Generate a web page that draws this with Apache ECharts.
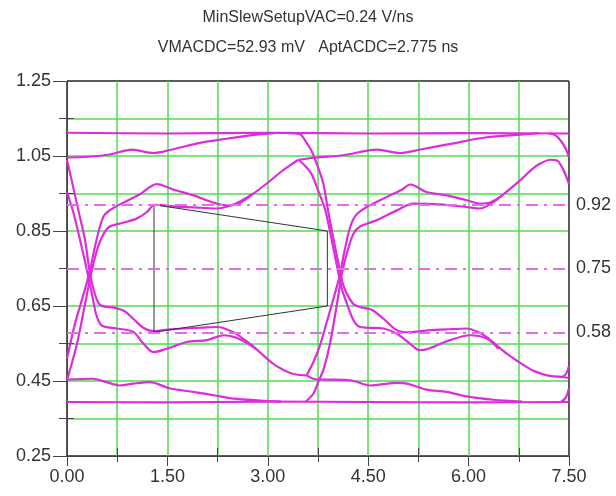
<!DOCTYPE html>
<html>
<head>
<meta charset="utf-8">
<script src="https://cdn.jsdelivr.net/npm/echarts@6/dist/echarts.min.js"></script>
<style>
  html, body { margin: 0; padding: 0; background: #fff; }
  #chart { width: 616px; height: 496px; }
</style>
</head>
<body>
<div id="chart"></div>
<script>
// eye diagram traces, [time ns, volts]
const topFlat = [[0, 1.112], [1.5, 1.11], [3.0, 1.112], [4.5, 1.11], [6.0, 1.111], [7.5, 1.11]];
const settleHighA = [[0, 1.046], [0.3, 1.048], [0.64, 1.054], [0.97, 1.067], [1.29, 1.058], [1.54, 1.066], [1.99, 1.085], [2.39, 1.096], [2.83, 1.107], [3.1, 1.111]];
const settleHighB = [[3.46, 1.04], [3.73, 1.046], [4.13, 1.052], [4.63, 1.067], [4.98, 1.058], [5.3, 1.068], [5.75, 1.083], [6.27, 1.1], [6.77, 1.107], [7.05, 1.111]];
const riseA1 = [[0, 0.51], [0.12, 0.603], [0.25, 0.683], [0.33, 0.735], [0.42, 0.81], [0.49, 0.86], [0.56, 0.893], [0.7, 0.912], [0.89, 0.93], [1.09, 0.948], [1.34, 0.975], [1.6, 0.96], [1.89, 0.945], [2.2, 0.925], [2.4, 0.918], [2.58, 0.925], [2.75, 0.945], [2.98, 0.976], [3.2, 1.008], [3.33, 1.025], [3.46, 1.04]];
const riseA2 = [[0, 0.452], [0.15, 0.55], [0.27, 0.656], [0.36, 0.735], [0.45, 0.8], [0.54, 0.84], [0.64, 0.862], [0.84, 0.872], [1.04, 0.883], [1.19, 0.9], [1.31, 0.92], [1.64, 0.915], [1.99, 0.912], [2.24, 0.91], [2.45, 0.918], [2.62, 0.932], [2.78, 0.95]];
const fallA1 = [[0, 1.04], [0.07, 0.985], [0.17, 0.905], [0.27, 0.825], [0.34, 0.74], [0.42, 0.68], [0.5, 0.652], [0.72, 0.645], [0.86, 0.636], [0.99, 0.616], [1.14, 0.592], [1.29, 0.583], [1.5, 0.587], [1.74, 0.59], [2.0, 0.592], [2.24, 0.594], [2.49, 0.58], [2.65, 0.56], [2.79, 0.541], [3.08, 0.496], [3.25, 0.478], [3.4, 0.468], [3.58, 0.465]];
const fallA2 = [[0, 0.954], [0.1, 0.896], [0.22, 0.807], [0.31, 0.735], [0.38, 0.675], [0.44, 0.625], [0.52, 0.598], [0.74, 0.59], [0.99, 0.581], [1.14, 0.55], [1.29, 0.527], [1.49, 0.536], [1.79, 0.554], [2.09, 0.559], [2.34, 0.572], [2.52, 0.566], [2.68, 0.552], [2.82, 0.536]];
const riseB1 = [[3.58, 0.465], [3.68, 0.5], [3.78, 0.545], [3.86, 0.594], [3.95, 0.65], [4.03, 0.701], [4.08, 0.735], [4.15, 0.8], [4.23, 0.86], [4.32, 0.893], [4.48, 0.914], [4.78, 0.941], [5.0, 0.96], [5.13, 0.974], [5.37, 0.954], [5.67, 0.945], [5.97, 0.932], [6.17, 0.923], [6.32, 0.926], [6.47, 0.941], [6.77, 0.985], [6.95, 1.015], [7.07, 1.03], [7.22, 1.04], [7.32, 1.038], [7.41, 1.015], [7.5, 0.976]];
const riseB2 = [[3.56, 0.394], [3.68, 0.416], [3.76, 0.45], [3.83, 0.479], [3.93, 0.55], [4.05, 0.674], [4.1, 0.73], [4.18, 0.79], [4.28, 0.843], [4.38, 0.862], [4.63, 0.879], [4.93, 0.905], [5.17, 0.923], [5.57, 0.921], [5.97, 0.914], [6.17, 0.91], [6.35, 0.925], [6.5, 0.945]];
const fallB1 = [[3.3, 1.111], [3.48, 1.108], [3.58, 1.085], [3.65, 1.065], [3.75, 1.02], [3.83, 0.976], [3.9, 0.905], [3.98, 0.83], [4.06, 0.76], [4.12, 0.71], [4.18, 0.683], [4.28, 0.655], [4.38, 0.647], [4.55, 0.64], [4.73, 0.616], [4.93, 0.585], [5.12, 0.58], [5.4, 0.585], [5.7, 0.588], [5.97, 0.59], [6.15, 0.58], [6.27, 0.567], [6.57, 0.523], [6.87, 0.487], [7.0, 0.475], [7.17, 0.465], [7.42, 0.46], [7.5, 0.458]];
const fallB2 = [[3.46, 1.04], [3.55, 1.025], [3.65, 1.003], [3.75, 0.959], [3.86, 0.905], [3.95, 0.83], [4.03, 0.76], [4.1, 0.7], [4.15, 0.672], [4.28, 0.612], [4.38, 0.594], [4.73, 0.59], [4.93, 0.576], [5.12, 0.55], [5.27, 0.532], [5.4, 0.536], [5.72, 0.559], [6.02, 0.572], [6.27, 0.563], [6.45, 0.535]];
const settleLowA = [[0, 0.454], [0.39, 0.456], [0.59, 0.447], [0.79, 0.438], [0.99, 0.443], [1.24, 0.447], [1.54, 0.43], [1.89, 0.421], [2.19, 0.412], [2.49, 0.403], [2.88, 0.398], [3.2, 0.395]];
const settleLowB = [[3.58, 0.465], [3.68, 0.456], [3.78, 0.454], [4.23, 0.452], [4.53, 0.438], [4.93, 0.445], [5.08, 0.443], [5.37, 0.427], [5.67, 0.421], [5.97, 0.409], [6.37, 0.4], [6.8, 0.395]];
const bottomFlat = [[0, 0.394], [1.5, 0.393], [3.0, 0.395], [4.5, 0.394], [6.0, 0.393], [7.5, 0.394]];
const topTail = [[7.2, 1.111], [7.3, 1.105], [7.38, 1.09], [7.45, 1.07], [7.5, 1.047]];
const lowTail = [[7.4, 0.46], [7.46, 0.47], [7.5, 0.49]];
const bottomTail = [[7.38, 0.394], [7.45, 0.405], [7.5, 0.43]];

// eye mask and threshold levels
const eyeMask = [[1.3, 0.92], [3.89, 0.85], [3.89, 0.65], [1.3, 0.58], [1.3, 0.92]];
const thresholds = [0.92, 0.75, 0.58];

const titleLine1 = 'MinSlewSetupVAC=0.24 V/ns';
const titleLine2 = 'VMACDC=52.93 mV   AptACDC=2.775 ns';

const FONT = '"Liberation Sans", Arial, sans-serif';
const GREEN = '#4fdc4f';
const MAGENTA = '#dd2cdd';
const AXIS = '#444';

const traces = [topFlat, settleHighA, settleHighB, riseA1, riseA2, fallA1, fallA2,
  riseB1, riseB2, fallB1, fallB2, settleLowA, settleLowB, bottomFlat,
  topTail, lowTail, bottomTail];

const chart = echarts.init(document.getElementById('chart'));

const hGridColors = [AXIS, GREEN, GREEN, GREEN, GREEN, 'rgba(0,0,0,0)', GREEN, GREEN, GREEN, GREEN, AXIS];
const vGridColors = [AXIS, GREEN, GREEN, GREEN, GREEN, GREEN, GREEN, GREEN, GREEN, GREEN, AXIS];

const series = traces.map(d => ({
  type: 'line',
  data: d,
  showSymbol: false,
  smooth: 0.3,
  lineStyle: { color: MAGENTA, width: 2.2 },
  silent: true,
  z: 3
}));

series.push({
  type: 'line',
  data: eyeMask,
  showSymbol: false,
  lineStyle: { color: '#333', width: 1 },
  silent: true,
  z: 4,
  markLine: {
    silent: true,
    symbol: 'none',
    lineStyle: { color: '#e070e0', width: 2, type: [12, 6, 3, 6] },
    label: {
      position: 'end',
      distance: 7,
      color: '#333',
      fontSize: 18,
      fontFamily: FONT,
      formatter: p => p.value.toFixed(2)
    },
    data: thresholds.map(v => ({ yAxis: v }))
  }
});

chart.setOption({
  animation: false,
  title: [
    { text: titleLine1, left: 'center', top: 10, padding: 0,
      textStyle: { fontSize: 16, fontWeight: 'normal', color: '#333', fontFamily: FONT } },
    { text: titleLine2, left: 'center', top: 40, padding: 0,
      textStyle: { fontSize: 16, fontWeight: 'normal', color: '#333', fontFamily: FONT } }
  ],
  grid: { left: 67, right: 47, top: 81, bottom: 40, show: true, borderColor: AXIS, borderWidth: 1, backgroundColor: '#fff' },
  xAxis: [
    {
      type: 'value', min: 0, max: 7.5, interval: 1.5, position: 'bottom',
      axisLine: { show: true, lineStyle: { color: AXIS } },
      axisTick: { show: true, length: 10, lineStyle: { color: AXIS } },
      minorTick: { show: true, splitNumber: 2, length: 6, lineStyle: { color: AXIS } },
      splitLine: { show: false },
      axisLabel: { color: '#333', fontSize: 18, fontFamily: FONT, margin: 12, formatter: v => v.toFixed(2) }
    },
    {
      type: 'value', min: 0, max: 7.5, interval: 0.75, position: 'bottom',
      axisLine: { show: false }, axisTick: { show: false }, axisLabel: { show: false },
      splitLine: { show: true, lineStyle: { color: vGridColors, width: 1.5 } }
    },
    {
      type: 'value', min: 0, max: 7.5, interval: 1.5, position: 'bottom',
      axisLine: { show: false }, axisLabel: { show: false },
      axisTick: { show: false, inside: true },
      minorTick: { show: true, splitNumber: 2, length: 8, lineStyle: { color: AXIS } },
      splitLine: { show: false }
    }
  ],
  yAxis: [
    {
      type: 'value', min: 0.25, max: 1.25, interval: 0.2, position: 'left',
      axisLine: { show: true, lineStyle: { color: AXIS } },
      axisTick: { show: true, length: 14, lineStyle: { color: AXIS } },
      minorTick: { show: true, splitNumber: 2, length: 8, lineStyle: { color: AXIS } },
      splitLine: { show: false },
      axisLabel: { color: '#333', fontSize: 18, fontFamily: FONT, margin: 16, formatter: v => v.toFixed(2) }
    },
    {
      type: 'value', min: 0.25, max: 1.25, interval: 0.1, position: 'left',
      axisLine: { show: false }, axisTick: { show: false }, axisLabel: { show: false },
      splitLine: { show: true, lineStyle: { color: hGridColors, width: 1.5 } }
    },
    {
      type: 'value', min: 0.25, max: 1.25, interval: 0.2, position: 'left',
      axisLine: { show: false }, axisLabel: { show: false },
      axisTick: { show: false, inside: true },
      minorTick: { show: true, splitNumber: 2, length: 7, lineStyle: { color: AXIS } },
      splitLine: { show: false }
    }
  ],
  series: series
});
</script>
</body>
</html>
